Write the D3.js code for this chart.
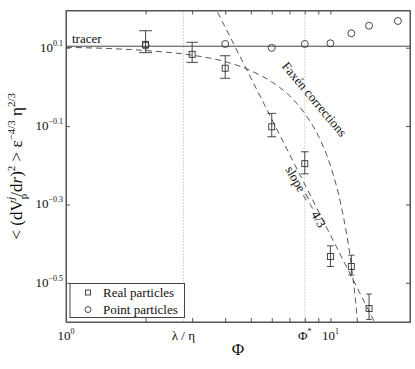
<!DOCTYPE html>
<html>
<head>
<meta charset="utf-8">
<script src="https://d3js.org/d3.v7.min.js"></script>
<style>
  body { margin: 0; background: #fff; }
</style>
</head>
<body>
<div id="chart"></div>
<script>
// Real particles (squares with error bars)
const phiReal  = [2, 3, 4, 6, 8, 10, 12, 14];
const valReal  = [1.284, 1.211, 1.116, 0.791, 0.637, 0.369, 0.348, 0.272];
const errLow   = [1.223, 1.155, 1.052, 0.746, 0.600, 0.348, 0.331, 0.255];
const errHigh  = [1.391, 1.300, 1.201, 0.856, 0.683, 0.393, 0.372, 0.296];

// Point particles (circles)
const phiPoint = [2, 4, 6, 8, 10, 12, 14, 18];
const valPoint = [1.274, 1.287, 1.258, 1.287, 1.292, 1.370, 1.433, 1.473];

// dashed curves
const phiFaxen = [1, 2, 3, 4, 5, 6, 7, 8, 9, 10, 11, 12, 12.6, 13];
const valFaxen = [1.262, 1.238, 1.205, 1.16, 1.10, 1.03, 0.95, 0.855, 0.75, 0.63, 0.495, 0.35, 0.26, 0.19];
const phiSlope = [3.6, 16];
const valSlope = [1.634, 0.224];

const tracerVal = 1.27;
const lambdaEta = 2.78;
const phiStar = 8.0;

const yTickVals = [0.1, -0.1, -0.3, -0.5];           // exponents
const xMinorTicks = [2, 3, 4, 5, 6, 7, 8, 9, 20];
const xMajorTicks = [1, 10];

const W = 415, H = 369;
const L = 66, R = 410, T = 10.5, B = 322;
const serif = "'Liberation Serif', 'Times New Roman', Times, serif";

const x = d3.scaleLog().domain([1, 20]).range([L, R]);
const y = d3.scaleLog().domain([Math.pow(10, -0.6), Math.pow(10, 0.195)]).range([B, T]);

const svg = d3.select("#chart").append("svg")
    .attr("width", W).attr("height", H)
    .attr("font-family", serif);

svg.append("defs").append("clipPath").attr("id", "plot")
    .append("rect").attr("x", L).attr("y", T).attr("width", R - L).attr("height", B - T);

const axisColor = "#555";
const ink = "#333";

// dotted reference lines
[lambdaEta, phiStar].forEach(v => {
    svg.append("line")
        .attr("x1", x(v)).attr("x2", x(v))
        .attr("y1", T).attr("y2", B)
        .attr("stroke", "#aaa").attr("stroke-width", 1)
        .attr("stroke-dasharray", "1,2");
});

// axes (ticks inside)
function styleAxis(g) {
    g.selectAll("path").attr("stroke", axisColor);
    g.selectAll("line").attr("stroke", axisColor);
    g.selectAll("text").remove();
}
svg.append("g").attr("transform", `translate(0,${B})`)
    .call(d3.axisBottom(x).tickValues(xMajorTicks.concat(xMinorTicks)).tickSizeInner(-4).tickSizeOuter(0).tickFormat(""))
    .call(styleAxis);
svg.append("g").attr("transform", `translate(0,${T})`)
    .call(d3.axisTop(x).tickValues(xMajorTicks.concat(xMinorTicks)).tickSizeInner(-4).tickSizeOuter(0).tickFormat(""))
    .call(styleAxis);
const yTicks = yTickVals.map(e => Math.pow(10, e));
svg.append("g").attr("transform", `translate(${L},0)`)
    .call(d3.axisLeft(y).tickValues(yTicks).tickSizeInner(-4).tickSizeOuter(0).tickFormat(""))
    .call(styleAxis);
svg.append("g").attr("transform", `translate(${R},0)`)
    .call(d3.axisRight(y).tickValues(yTicks).tickSizeInner(-4).tickSizeOuter(0).tickFormat(""))
    .call(styleAxis);

// y tick labels 10^e
yTickVals.forEach(e => {
    const t = svg.append("text")
        .attr("x", L - 3).attr("y", y(Math.pow(10, e)) + 4)
        .attr("text-anchor", "end").attr("font-size", 13).attr("fill", "#111");
    t.append("tspan").text("10");
    t.append("tspan").attr("dy", -6).attr("font-size", 8).text(e > 0 ? e.toFixed(1) : "\u2212" + Math.abs(e).toFixed(1));
});

// x tick labels
const xLabels = [
    { v: 1, base: "10", sup: "0" },
    { v: lambdaEta, base: "\u03bb / \u03b7", sup: "" },
    { v: phiStar, base: "\u03a6", sup: "*" },
    { v: 10, base: "10", sup: "1" }
];
xLabels.forEach(d => {
    const t = svg.append("text")
        .attr("x", x(d.v)).attr("y", B + 18)
        .attr("text-anchor", "middle").attr("font-size", 13).attr("fill", "#111");
    t.append("tspan").text(d.base);
    if (d.sup) t.append("tspan").attr("dy", -6).attr("font-size", 8).text(d.sup);
});

// axis titles
svg.append("text")
    .attr("x", (L + R) / 2).attr("y", 355)
    .attr("text-anchor", "middle").attr("font-size", 17).attr("fill", "#111")
    .text("\u03a6");

const yl = svg.append("text")
    .attr("transform", `translate(22,${(T + B) / 2}) rotate(-90)`)
    .attr("text-anchor", "middle").attr("font-size", 17).attr("fill", "#111");
yl.append("tspan").text("< (dV");
yl.append("tspan").attr("dy", 5).attr("font-size", 11).text("p");
yl.append("tspan").attr("dx", -6).attr("dy", -13).attr("font-size", 11).attr("font-style", "italic").text("j");
yl.append("tspan").attr("dy", 8).text("/d");
yl.append("tspan").attr("font-style", "italic").text("r");
yl.append("tspan").text(")");
yl.append("tspan").attr("dy", -7).attr("font-size", 11).text("2");
yl.append("tspan").attr("dy", 7).text(" > \u03b5");
yl.append("tspan").attr("dy", -7).attr("font-size", 11).text("\u22124/3");
yl.append("tspan").attr("dy", 7).text(" \u03b7");
yl.append("tspan").attr("dy", -7).attr("font-size", 11).text("2/3");

const plot = svg.append("g").attr("clip-path", "url(#plot)");

// tracer line
plot.append("line")
    .attr("x1", L).attr("x2", R)
    .attr("y1", y(tracerVal)).attr("y2", y(tracerVal))
    .attr("stroke", "#444").attr("stroke-width", 1);

// dashed curves
plot.append("path")
    .datum(d3.zip(phiFaxen, valFaxen))
    .attr("d", d3.line().x(d => x(d[0])).y(d => y(d[1])).curve(d3.curveMonotoneX))
    .attr("fill", "none").attr("stroke", "#444").attr("stroke-width", 0.9)
    .attr("stroke-dasharray", "6,4");
plot.append("path")
    .datum(d3.zip(phiSlope, valSlope))
    .attr("d", d3.line().x(d => x(d[0])).y(d => y(d[1])))
    .attr("fill", "none").attr("stroke", "#444").attr("stroke-width", 0.9)
    .attr("stroke-dasharray", "6,4");

// error bars
const capW = d3.scaleLog().domain([2, 14]).range([13, 5.5]);
phiReal.forEach((p, i) => {
    const cx = x(p), w = capW(p) / 2;
    const g = plot.append("g").attr("stroke", ink).attr("stroke-width", 0.9);
    g.append("line").attr("x1", cx).attr("x2", cx).attr("y1", y(errLow[i])).attr("y2", y(errHigh[i]));
    g.append("line").attr("x1", cx - w).attr("x2", cx + w).attr("y1", y(errLow[i])).attr("y2", y(errLow[i]));
    g.append("line").attr("x1", cx - w).attr("x2", cx + w).attr("y1", y(errHigh[i])).attr("y2", y(errHigh[i]));
});

// markers
plot.selectAll(".sq").data(d3.zip(phiReal, valReal)).enter()
    .append("rect").attr("class", "sq")
    .attr("x", d => x(d[0]) - 3).attr("y", d => y(d[1]) - 3)
    .attr("width", 6).attr("height", 6)
    .attr("fill", "none").attr("stroke", ink).attr("stroke-width", 0.9);
plot.selectAll(".ci").data(d3.zip(phiPoint, valPoint)).enter()
    .append("circle").attr("class", "ci")
    .attr("cx", d => x(d[0])).attr("cy", d => y(d[1]))
    .attr("r", 3.5)
    .attr("fill", "none").attr("stroke", ink).attr("stroke-width", 0.9);

// frame
svg.append("rect")
    .attr("x", L).attr("y", T).attr("width", R - L).attr("height", B - T)
    .attr("fill", "none").attr("stroke", axisColor).attr("stroke-width", 1);

// annotations
svg.append("text").attr("x", 72).attr("y", 43).attr("font-size", 13).attr("fill", "#111").text("tracer");
svg.append("text")
    .attr("transform", "translate(311,102) rotate(50)")
    .attr("text-anchor", "middle").attr("font-size", 13).attr("fill", "#111")
    .text("Fax\u00e9n corrections");
svg.append("text")
    .attr("transform", "translate(302,199) rotate(60)")
    .attr("text-anchor", "middle").attr("font-size", 13).attr("fill", "#111")
    .text("slope = \u2212 4/3");

// legend
const lg = svg.append("g");
lg.append("rect").attr("x", 70).attr("y", 283.5).attr("width", 114.5).attr("height", 34)
    .attr("fill", "#fff").attr("stroke", "#444").attr("stroke-width", 1);
lg.append("rect").attr("x", 85.5).attr("y", 290).attr("width", 5).attr("height", 5)
    .attr("fill", "none").attr("stroke", ink).attr("stroke-width", 0.9);
lg.append("circle").attr("cx", 88).attr("cy", 309.5).attr("r", 3)
    .attr("fill", "none").attr("stroke", ink).attr("stroke-width", 0.9);
lg.append("text").attr("x", 103).attr("y", 297).attr("font-size", 13).attr("fill", "#111").text("Real particles");
lg.append("text").attr("x", 103).attr("y", 314).attr("font-size", 13).attr("fill", "#111").text("Point particles");
</script>
</body>
</html>
